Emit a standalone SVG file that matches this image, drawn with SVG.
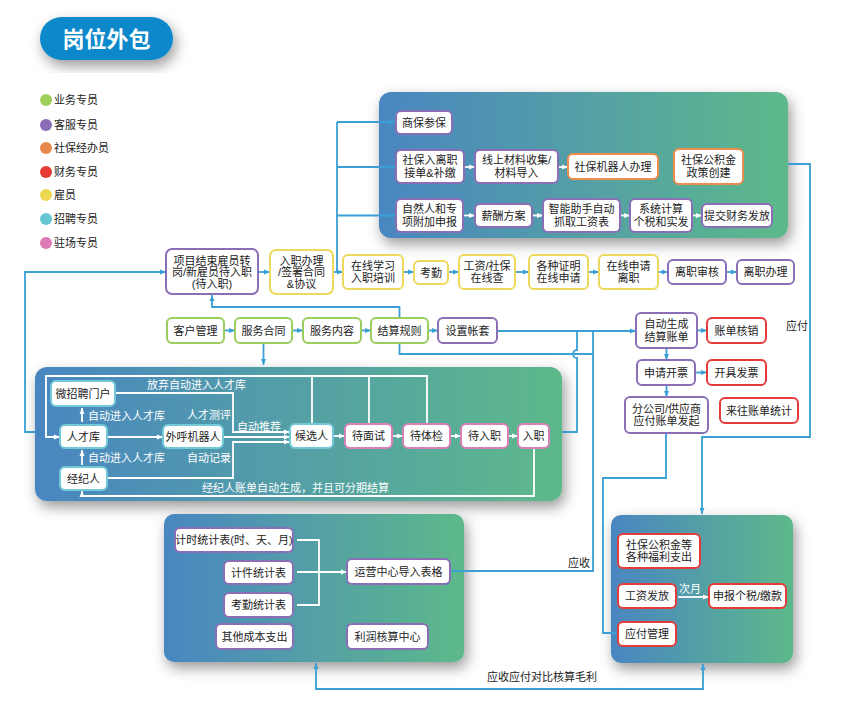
<svg xmlns="http://www.w3.org/2000/svg" width="858" height="709" viewBox="0 0 858 709">
<defs>
<style>
.t{font-family:"Liberation Sans","Noto Sans CJK SC",sans-serif;font-size:11px;fill:#222;text-anchor:middle}
.lg{font-family:"Liberation Sans","Noto Sans CJK SC",sans-serif;font-size:11px;fill:#222}
.w{font-family:"Liberation Sans","Noto Sans CJK SC",sans-serif;font-size:11px;fill:#fff}
.b{fill:#fff;stroke-width:2}
.pu{stroke:#8b6fb6}.ye{stroke:#efd95a}.gr{stroke:#9bcd5c}.or{stroke:#ee8c4e}.rd{stroke:#e63b3b}.cy{stroke:#72cad8}.pk{stroke:#d980b6}
.bl{stroke:#3a9fd5;stroke-width:1.8;fill:none}
.wl{stroke:#fff;stroke-width:1.8;fill:none}
.pn{fill:url(#g)}
</style>
<linearGradient id="g" x1="0" y1="0" x2="1" y2="0">
<stop offset="0" stop-color="#4a86c1"/><stop offset="1" stop-color="#5db98a"/>
</linearGradient>
<filter id="sh" x="-20%" y="-20%" width="140%" height="150%">
<feDropShadow dx="3" dy="6" stdDeviation="7" flood-color="#000" flood-opacity="0.4"/>
</filter>
<marker id="ab" viewBox="0 0 6 6" refX="6" refY="3" markerWidth="6" markerHeight="6" orient="auto-start-reverse" markerUnits="userSpaceOnUse"><path d="M0,0.5 L6,3 L0,5.5z" fill="#3a9fd5"/></marker>
<marker id="aw" viewBox="0 0 6 6" refX="6" refY="3" markerWidth="6" markerHeight="6" orient="auto" markerUnits="userSpaceOnUse"><path d="M0,0.5 L6,3 L0,5.5z" fill="#fff"/></marker>
</defs>
<rect width="858" height="709" fill="#fff"/>

<g id="title">
<rect x="40" y="17" width="133" height="43" rx="21.5" fill="#0a88ca" filter="url(#sh)"/>
<text x="106.5" y="47" style="font-family:'Liberation Sans','Noto Sans CJK SC',sans-serif;font-size:22px;font-weight:bold;fill:#fff;text-anchor:middle">岗位外包</text>
</g>

<g id="legend">
<circle cx="46" cy="100" r="6" fill="#9dcf5a"/><text class="lg" x="54" y="104">业务专员</text>
<circle cx="46" cy="125" r="6" fill="#8a6db5"/><text class="lg" x="54" y="129">客服专员</text>
<circle cx="46" cy="148" r="6" fill="#e8894c"/><text class="lg" x="54" y="152">社保经办员</text>
<circle cx="46" cy="172" r="6" fill="#e83a34"/><text class="lg" x="54" y="176">财务专员</text>
<circle cx="46" cy="195" r="6" fill="#ecd94f"/><text class="lg" x="54" y="199">雇员</text>
<circle cx="46" cy="219" r="6" fill="#65c6d4"/><text class="lg" x="54" y="223">招聘专员</text>
<circle cx="46" cy="243" r="6" fill="#de7ab6"/><text class="lg" x="54" y="247">驻场专员</text>
</g>

<!-- panels -->
<rect id="panel-top" class="pn" x="379" y="92" width="409" height="146" rx="12" filter="url(#sh)"/>
<rect id="panel-left" class="pn" x="35" y="367" width="527" height="134" rx="12" filter="url(#sh)"/>
<rect id="panel-bl" class="pn" x="164" y="514" width="300" height="148" rx="10" filter="url(#sh)"/>
<rect id="panel-br" class="pn" x="611" y="515" width="182" height="148" rx="10" filter="url(#sh)"/>

<g id="connectors">
<!-- top panel feed -->
<path class="bl" d="M337 272 V122"/>
<path class="bl" d="M337 122 H396" marker-end="url(#ab)"/>
<path class="bl" d="M337 167 H396" marker-end="url(#ab)"/>
<path class="bl" d="M337 215.5 H396" marker-end="url(#ab)"/>
<!-- row 1 -->
<path class="bl" d="M258 272 H270" marker-end="url(#ab)"/>
<path class="bl" d="M333 272 H343" marker-end="url(#ab)"/>
<path class="bl" d="M403 272 H414" marker-end="url(#ab)"/>
<path class="bl" d="M448 272 H459" marker-end="url(#ab)"/>
<path class="bl" d="M515 272 H529" marker-end="url(#ab)"/>
<path class="bl" d="M588 272 H599" marker-end="url(#ab)"/>
<path class="bl" d="M658 272 H668" marker-end="url(#ab)"/>
<path class="bl" d="M726 272 H737" marker-end="url(#ab)"/>
<!-- row 2 -->
<path class="bl" d="M224 330.5 H235" marker-end="url(#ab)"/>
<path class="bl" d="M292 330.5 H303" marker-end="url(#ab)"/>
<path class="bl" d="M361 330.5 H371" marker-end="url(#ab)"/>
<path class="bl" d="M428 330.5 H438" marker-end="url(#ab)"/>
<path class="bl" d="M497 331 H636" marker-end="url(#ab)"/>
<path class="bl" d="M399.5 318 V307 H212 V295" marker-end="url(#ab)"/>
<path class="bl" d="M399.5 343 V354 H593"/>
<path class="bl" d="M593 331 V571 H450"/>
<path class="bl" d="M562 432 H577 V358 A4 4 0 0 1 577 350 V331"/>
<path class="bl" d="M35 432 H25 V272 H166" marker-end="url(#ab)"/>
<path class="bl" d="M263.5 343 V365" marker-end="url(#ab)"/>
<!-- right side -->
<path class="bl" d="M788 164 H810 V437 H702 V514" marker-end="url(#ab)"/>
<path class="bl" d="M666 433 V478 H603 V633 H618"/>
<path class="bl" d="M697 330.5 H707" marker-end="url(#ab)"/>
<path class="bl" d="M666.5 348 V360" marker-end="url(#ab)"/>
<path class="bl" d="M695 372.5 H707" marker-end="url(#ab)"/>
<path class="bl" d="M666.5 385 V397" marker-end="url(#ab)"/>
<!-- bottom -->
<path class="bl" d="M316 663 V689 H703 V664" marker-start="url(#ab)" marker-end="url(#ab)"/>
<!-- top panel internal -->
<path class="wl" d="M464 167 H475" marker-end="url(#aw)"/>
<path class="wl" d="M558 167 H568" marker-end="url(#aw)"/>
<path class="wl" d="M463 215.5 H475" marker-end="url(#aw)"/>
<path class="wl" d="M532 215.5 H543" marker-end="url(#aw)"/>
<path class="wl" d="M620 215.5 H630" marker-end="url(#aw)"/>
<path class="wl" d="M692 215.5 H702" marker-end="url(#aw)"/>
<!-- left panel internal -->
<path class="wl" d="M427 424 V376 H46 V437 H60" marker-end="url(#aw)"/>
<path class="wl" d="M312 376 V424"/>
<path class="wl" d="M369 376 V424"/>
<path class="wl" d="M115 393 H233 V432 H290" marker-end="url(#aw)"/>
<path class="wl" d="M223 437 H290" marker-end="url(#aw)"/>
<path class="wl" d="M107 478 H233 V442 H290" marker-end="url(#aw)"/>
<path class="wl" d="M107 437 H163" marker-end="url(#aw)"/>
<path class="wl" d="M82 422 V408" marker-end="url(#aw)"/>
<path class="wl" d="M82 465 V450" marker-end="url(#aw)"/>
<path class="wl" d="M534 448 V496 H82 V491" marker-end="url(#aw)"/>
<path class="wl" d="M333 436 H345" marker-end="url(#aw)"/>
<path class="wl" d="M392 436 H403" marker-end="url(#aw)"/>
<path class="wl" d="M450 436 H461" marker-end="url(#aw)"/>
<path class="wl" d="M508 436 H518" marker-end="url(#aw)"/>
<!-- bottom-left internal -->
<path class="wl" d="M297 540 H319 V605 H297"/>
<path class="wl" d="M297 572 H347" marker-end="url(#aw)"/>
<!-- bottom-right internal -->
<path class="wl" d="M678 597 H709" marker-end="url(#aw)"/>
</g>

<g id="labels">
<text class="t" x="797" y="330">应付</text>
<text class="t" x="579" y="567">应收</text>
<text class="t" x="542" y="681">应收应付对比核算毛利</text>
<text class="w" x="147" y="389">放弃自动进入人才库</text>
<text class="w" x="231" y="419" text-anchor="end">人才测评</text>
<text class="w" x="237" y="431">自动推荐</text>
<text class="w" x="231" y="462" text-anchor="end">自动记录</text>
<text class="w" x="88" y="420">自动进入人才库</text>
<text class="w" x="88" y="462">自动进入人才库</text>
<text class="w" x="202" y="492">经纪人账单自动生成，并且可分期结算</text>
<text class="w" x="690" y="593" text-anchor="middle">次月</text>
</g>

<!-- top panel nodes -->
<g id="n-shangbao"><rect class="b pu" x="396" y="111" width="56" height="23" rx="5"/><text class="t" x="424" y="126.5">商保参保</text></g>
<g id="n-sbrlz"><rect class="b pu" x="396" y="150" width="68" height="33" rx="5"/><text class="t" x="430" y="164.3">社保入离职</text><text class="t" x="430" y="176.8">接单&amp;补缴</text></g>
<g id="n-xscl"><rect class="b pu" x="475" y="150" width="83" height="33" rx="5"/><text class="t" x="516.5" y="164.3">线上材料收集/</text><text class="t" x="516.5" y="176.8">材料导入</text></g>
<g id="n-sbjqr"><rect class="b or" x="568" y="154" width="90" height="25" rx="5"/><text class="t" x="613" y="170.5">社保机器人办理</text></g>
<g id="n-sbgjj"><rect class="b or" x="674" y="149" width="69" height="35" rx="5"/><text class="t" x="708.5" y="164.3">社保公积金</text><text class="t" x="708.5" y="176.8">政策创建</text></g>
<g id="n-zrr"><rect class="b pu" x="396" y="199" width="67" height="33" rx="5"/><text class="t" x="429.5" y="213.3">自然人和专</text><text class="t" x="429.5" y="225.8">项附加申报</text></g>
<g id="n-xcfa"><rect class="b pu" x="475" y="204" width="57" height="23" rx="5"/><text class="t" x="503.5" y="219.5">薪酬方案</text></g>
<g id="n-znzs"><rect class="b pu" x="543" y="199" width="77" height="33" rx="5"/><text class="t" x="581.5" y="213.3">智能助手自动</text><text class="t" x="581.5" y="225.8">抓取工资表</text></g>
<g id="n-xtjs"><rect class="b pu" x="630" y="199" width="62" height="33" rx="5"/><text class="t" x="661" y="213.3">系统计算</text><text class="t" x="661" y="225.8">个税和实发</text></g>
<g id="n-tjcw"><rect class="b pu" x="702" y="204" width="70" height="23" rx="5"/><text class="t" x="737" y="219.5">提交财务发放</text></g>

<!-- row 1 -->
<g id="n-xmjs"><rect class="b pu" x="166" y="249" width="92" height="45" rx="6"/><text class="t" x="212" y="264.5">项目结束雇员转</text><text class="t" x="212" y="276">岗/新雇员待入职</text><text class="t" x="212" y="287.5">(待入职)</text></g>
<g id="n-rzbl"><rect class="b ye" x="270" y="250" width="63" height="44" rx="6"/><text class="t" x="301.5" y="264.5">入职办理</text><text class="t" x="301.5" y="276">/签署合同</text><text class="t" x="301.5" y="287.5">&amp;协议</text></g>
<g id="n-zxxx"><rect class="b ye" x="343" y="255" width="60" height="34" rx="5"/><text class="t" x="373" y="269.8">在线学习</text><text class="t" x="373" y="282.3">入职培训</text></g>
<g id="n-kq"><rect class="b ye" x="414" y="261" width="34" height="23" rx="5"/><text class="t" x="431" y="276.5">考勤</text></g>
<g id="n-gzsb"><rect class="b ye" x="459" y="255" width="56" height="34" rx="5"/><text class="t" x="487" y="269.8">工资/社保</text><text class="t" x="487" y="282.3">在线查</text></g>
<g id="n-gzzm"><rect class="b ye" x="529" y="255" width="59" height="34" rx="5"/><text class="t" x="558.5" y="269.8">各种证明</text><text class="t" x="558.5" y="282.3">在线申请</text></g>
<g id="n-zxsq"><rect class="b ye" x="599" y="255" width="59" height="34" rx="5"/><text class="t" x="628.5" y="269.8">在线申请</text><text class="t" x="628.5" y="282.3">离职</text></g>
<g id="n-lzsh"><rect class="b pu" x="668" y="260" width="58" height="24" rx="5"/><text class="t" x="697" y="276">离职审核</text></g>
<g id="n-lzbl"><rect class="b pu" x="737" y="260" width="57" height="24" rx="5"/><text class="t" x="765.5" y="276">离职办理</text></g>

<!-- row 2 -->
<g id="n-khgl"><rect class="b gr" x="167" y="318" width="57" height="25" rx="5"/><text class="t" x="195.5" y="334.5">客户管理</text></g>
<g id="n-fwht"><rect class="b gr" x="235" y="318" width="57" height="25" rx="5"/><text class="t" x="263.5" y="334.5">服务合同</text></g>
<g id="n-fwnr"><rect class="b gr" x="303" y="318" width="58" height="25" rx="5"/><text class="t" x="332" y="334.5">服务内容</text></g>
<g id="n-jsgz"><rect class="b gr" x="371" y="318" width="57" height="25" rx="5"/><text class="t" x="399.5" y="334.5">结算规则</text></g>
<g id="n-szzt"><rect class="b pu" x="438" y="318" width="59" height="25" rx="5"/><text class="t" x="467.5" y="334.5">设置帐套</text></g>

<!-- right middle -->
<g id="n-zdsc"><rect class="b pu" x="636" y="313" width="61" height="35" rx="5"/><text class="t" x="666.5" y="328.3">自动生成</text><text class="t" x="666.5" y="340.8">结算账单</text></g>
<g id="n-zdhx"><rect class="b rd" x="707" y="318" width="59" height="25" rx="5"/><text class="t" x="736.5" y="334.5">账单核销</text></g>
<g id="n-sqkp"><rect class="b pu" x="637" y="360" width="58" height="25" rx="5"/><text class="t" x="666" y="376.5">申请开票</text></g>
<g id="n-kjfp"><rect class="b rd" x="707" y="360" width="59" height="25" rx="5"/><text class="t" x="736.5" y="376.5">开具发票</text></g>
<g id="n-fgs"><rect class="b pu" x="625" y="397" width="83" height="36" rx="5"/><text class="t" x="666.5" y="412.8">分公司/供应商</text><text class="t" x="666.5" y="425.3">应付账单发起</text></g>
<g id="n-lwzd"><rect class="b rd" x="720" y="398" width="78" height="25" rx="5"/><text class="t" x="759" y="414.5">来往账单统计</text></g>

<!-- left panel nodes -->
<g id="n-wzp"><rect class="b cy" x="51" y="381" width="64" height="25" rx="5"/><text class="t" x="83" y="397.5">微招聘门户</text></g>
<g id="n-rck"><rect class="b cy" x="60" y="425" width="47" height="23" rx="5"/><text class="t" x="83.5" y="440.5">人才库</text></g>
<g id="n-whjqr"><rect class="b cy" x="163" y="425" width="60" height="23" rx="5"/><text class="t" x="193" y="440.5">外呼机器人</text></g>
<g id="n-jjr"><rect class="b cy" x="60" y="467" width="47" height="23" rx="5"/><text class="t" x="83.5" y="482.5">经纪人</text></g>
<g id="n-hxr"><rect class="b cy" x="290" y="424" width="43" height="24" rx="5"/><text class="t" x="311.5" y="440">候选人</text></g>
<g id="n-dms"><rect class="b pk" x="345" y="424" width="47" height="24" rx="5"/><text class="t" x="368.5" y="440">待面试</text></g>
<g id="n-dtj"><rect class="b pk" x="403" y="424" width="47" height="24" rx="5"/><text class="t" x="426.5" y="440">待体检</text></g>
<g id="n-drz"><rect class="b pk" x="461" y="424" width="47" height="24" rx="5"/><text class="t" x="484.5" y="440">待入职</text></g>
<g id="n-rz"><rect class="b pk" x="518" y="424" width="31" height="24" rx="5"/><text class="t" x="533.5" y="440">入职</text></g>

<!-- bottom-left nodes -->
<g id="n-jstj"><rect class="b pu" x="175" y="528" width="118" height="24" rx="5"/><text class="t" x="234" y="544">计时统计表(时、天、月)</text></g>
<g id="n-jjtj"><rect class="b pu" x="224" y="561" width="69" height="23" rx="5"/><text class="t" x="258.5" y="576.5">计件统计表</text></g>
<g id="n-kqtj"><rect class="b pu" x="224" y="593" width="69" height="24" rx="5"/><text class="t" x="258.5" y="609">考勤统计表</text></g>
<g id="n-qtcb"><rect class="b pu" x="216" y="624" width="77" height="25" rx="5"/><text class="t" x="254.5" y="640.5">其他成本支出</text></g>
<g id="n-yyzx"><rect class="b pu" x="347" y="559" width="103" height="25" rx="5"/><text class="t" x="398.5" y="575.5">运营中心导入表格</text></g>
<g id="n-lrhs"><rect class="b pu" x="347" y="624" width="81" height="25" rx="5"/><text class="t" x="387.5" y="640.5">利润核算中心</text></g>

<!-- bottom-right nodes -->
<g id="n-sbfl"><rect class="b rd" x="618" y="534" width="82" height="34" rx="5"/><text class="t" x="659" y="548.8">社保公积金等</text><text class="t" x="659" y="561.3">各种福利支出</text></g>
<g id="n-gzff"><rect class="b rd" x="618" y="584" width="58" height="24" rx="5"/><text class="t" x="647" y="600">工资发放</text></g>
<g id="n-sbgs"><rect class="b rd" x="709" y="584" width="77" height="24" rx="5"/><text class="t" x="747.5" y="600">申报个税/缴款</text></g>
<g id="n-yfgl"><rect class="b rd" x="618" y="622" width="58" height="24" rx="5"/><text class="t" x="647" y="638">应付管理</text></g>
</svg>
